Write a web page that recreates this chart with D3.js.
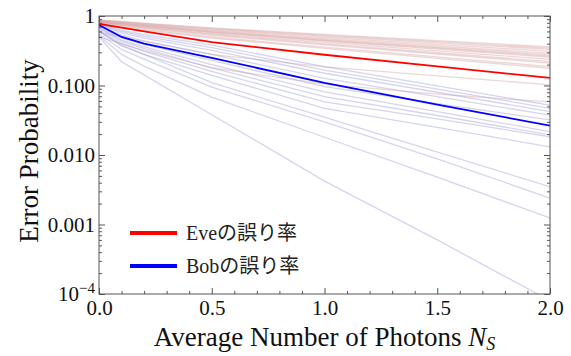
<!DOCTYPE html>
<html>
<head>
<meta charset="utf-8">
<script src="https://cdn.jsdelivr.net/npm/d3@7"></script>
<style>
  body { margin: 0; background: #fff; }
</style>
</head>
<body>
<svg id="chart" width="571" height="356"></svg>
<script>
// sample points along the x axis (average photon number)
const photons = [0, 0.1, 0.2, 0.5, 1.0, 1.5, 2.0];

// bold averages
const eveMean = [0.77, 0.68, 0.60, 0.42, 0.277, 0.188, 0.129];
const bobMean = [0.74, 0.50, 0.40, 0.25, 0.109, 0.053, 0.0265];

// faint individual runs
const eveRuns = [
  [0.88, 0.834, 0.79, 0.673, 0.543, 0.443, 0.36],
  [0.87, 0.823, 0.778, 0.66, 0.528, 0.427, 0.345],
  [0.86, 0.812, 0.766, 0.646, 0.513, 0.411, 0.33],
  [0.85, 0.80, 0.753, 0.628, 0.493, 0.391, 0.31],
  [0.84, 0.788, 0.74, 0.61, 0.473, 0.37, 0.29],
  [0.83, 0.777, 0.727, 0.596, 0.457, 0.354, 0.275],
  [0.825, 0.771, 0.72, 0.587, 0.447, 0.344, 0.265],
  [0.82, 0.765, 0.713, 0.578, 0.437, 0.334, 0.255],
  [0.80, 0.744, 0.692, 0.556, 0.416, 0.315, 0.238],
  [0.80, 0.74, 0.685, 0.543, 0.398, 0.296, 0.22],
  [0.78, 0.721, 0.666, 0.526, 0.384, 0.284, 0.21],
  [0.76, 0.699, 0.642, 0.499, 0.356, 0.258, 0.187],
  [0.74, 0.679, 0.623, 0.482, 0.342, 0.246, 0.177],
  [0.58, 0.50, 0.43, 0.28, 0.185, 0.138, 0.102],
  [0.50, 0.40, 0.32, 0.18, 0.105, 0.075, 0.058]
];
const bobRuns = [
  [0.78, 0.62, 0.54, 0.38, 0.187, 0.099, 0.052],
  [0.76, 0.60, 0.51, 0.35, 0.167, 0.089, 0.047],
  [0.74, 0.57, 0.48, 0.32, 0.15, 0.08, 0.042],
  [0.72, 0.53, 0.44, 0.28, 0.127, 0.069, 0.0375],
  [0.70, 0.48, 0.39, 0.23, 0.096, 0.055, 0.032],
  [0.68, 0.45, 0.36, 0.20, 0.081, 0.042, 0.0217],
  [0.66, 0.43, 0.34, 0.18, 0.069, 0.037, 0.0195],
  [0.62, 0.40, 0.31, 0.16, 0.058, 0.033, 0.0183],
  [0.60, 0.37, 0.28, 0.14, 0.047, 0.025, 0.0131],
  [0.60, 0.38, 0.28, 0.11, 0.035, 0.011, 0.0035],
  [0.55, 0.33, 0.24, 0.095, 0.03, 0.0088, 0.0024],
  [0.52, 0.28, 0.19, 0.068, 0.018, 0.0048, 0.00124],
  [0.50, 0.22, 0.142, 0.038, 0.0042, 0.0006, 0.00008]
];

const xTicks = [0, 0.5, 1.0, 1.5, 2.0];
const yTicks = [1e-4, 1e-3, 1e-2, 1e-1, 1];
const yTickLabels = ["10|−4", "0.001", "0.010", "0.100", "1"];
const legendLabels = ["Eveの誤り率", "Bobの誤り率"];

const width = 571, height = 356;
const margin = {top: 16, right: 21, bottom: 62, left: 99};
const serif = "'Liberation Serif', 'Times New Roman', serif";
const jpFont = "'Liberation Serif', 'Noto Sans CJK JP', serif";
const frameColor = "#555";

const svg = d3.select("#chart");

const x = d3.scaleLinear().domain([0, 2]).range([margin.left, width - margin.right]);
const y = d3.scaleLog().domain([1e-4, 1]).range([height - margin.bottom, margin.top]);

// minor tick positions
const xMinor = d3.range(21).map(i => i / 10).filter(v => !xTicks.some(t => Math.abs(t - v) < 1e-9));
const yMinor = [];
[-4, -3, -2, -1].forEach(e => { for (let k = 2; k <= 9; k++) yMinor.push(k * Math.pow(10, e)); });

svg.append("defs").append("clipPath").attr("id", "plot-clip")
  .append("rect")
  .attr("x", margin.left).attr("y", margin.top)
  .attr("width", width - margin.left - margin.right)
  .attr("height", height - margin.top - margin.bottom);

const line = d3.line()
  .x((d, i) => x(photons[i]))
  .y(d => y(d));

const plot = svg.append("g").attr("clip-path", "url(#plot-clip)").attr("fill", "none");

plot.append("g")
  .attr("stroke", "rgb(215,165,165)")
  .attr("stroke-opacity", 0.45)
  .attr("stroke-width", 1.3)
  .selectAll("path").data(eveRuns).join("path")
  .attr("d", line);

plot.append("g")
  .attr("stroke", "rgb(160,160,220)")
  .attr("stroke-opacity", 0.45)
  .attr("stroke-width", 1.3)
  .selectAll("path").data(bobRuns).join("path")
  .attr("d", line);

plot.append("path").datum(eveMean)
  .attr("stroke", "#ff0000").attr("stroke-width", 1.8).attr("d", line);
plot.append("path").datum(bobMean)
  .attr("stroke", "#0000ff").attr("stroke-width", 1.8).attr("d", line);

// axes: ticks point inward like a Mathematica frame
const styleAxis = g => {
  g.select(".domain").remove();
  g.selectAll(".tick line").attr("stroke", frameColor);
  g.attr("font-family", serif).attr("font-size", 21);
  g.selectAll("text").attr("fill", "#111");
};
const bottomY = y.range()[0], topY = y.range()[1];
const leftX = x.range()[0], rightX = x.range()[1];

svg.append("g").attr("transform", `translate(0,${bottomY})`)
  .call(d3.axisBottom(x).tickValues(xTicks).tickSize(-6).tickPadding(6).tickFormat(d3.format(".1f")))
  .call(styleAxis);
svg.append("g").attr("transform", `translate(0,${bottomY})`)
  .call(d3.axisBottom(x).tickValues(xMinor).tickSize(-3).tickFormat(""))
  .call(styleAxis);
svg.append("g").attr("transform", `translate(0,${topY})`)
  .call(d3.axisTop(x).tickValues(xTicks).tickSize(-6).tickFormat(""))
  .call(styleAxis);
svg.append("g").attr("transform", `translate(0,${topY})`)
  .call(d3.axisTop(x).tickValues(xMinor).tickSize(-3).tickFormat(""))
  .call(styleAxis);

const leftAxis = svg.append("g").attr("transform", `translate(${leftX},0)`)
  .call(d3.axisLeft(y).tickValues(yTicks).tickSize(-6).tickPadding(4)
    .tickFormat((d, i) => yTickLabels[i]))
  .call(styleAxis);
leftAxis.selectAll("text").attr("dy", "0.33em")
  .each(function(d, i) {
    const lab = yTickLabels[i];
    if (lab.includes("|")) {
      const [base, exp] = lab.split("|");
      const t = d3.select(this).text("");
      t.append("tspan").text(base);
      t.append("tspan").attr("dy", -8).attr("font-size", 15).text(exp);
    }
  });
svg.append("g").attr("transform", `translate(${leftX},0)`)
  .call(d3.axisLeft(y).tickValues(yMinor).tickSize(-3).tickFormat(""))
  .call(styleAxis);
svg.append("g").attr("transform", `translate(${rightX},0)`)
  .call(d3.axisRight(y).tickValues(yTicks).tickSize(-6).tickFormat(""))
  .call(styleAxis);
svg.append("g").attr("transform", `translate(${rightX},0)`)
  .call(d3.axisRight(y).tickValues(yMinor).tickSize(-3).tickFormat(""))
  .call(styleAxis);

// frame
svg.append("rect")
  .attr("x", leftX).attr("y", topY)
  .attr("width", rightX - leftX).attr("height", bottomY - topY)
  .attr("fill", "none").attr("stroke", frameColor).attr("stroke-width", 1);

// axis titles
const xTitle = svg.append("text")
  .attr("x", (leftX + rightX) / 2).attr("y", 346)
  .attr("text-anchor", "middle")
  .attr("font-family", serif).attr("font-size", 27).attr("fill", "#111");
xTitle.append("tspan").text("Average Number of Photons ");
xTitle.append("tspan").attr("font-style", "italic").text("N");
xTitle.append("tspan").attr("font-style", "italic").attr("font-size", 18).attr("dy", 4).text("S");

svg.append("text")
  .attr("transform", `translate(38,${(topY + bottomY) / 2 - 4}) rotate(-90)`)
  .attr("text-anchor", "middle")
  .attr("font-family", serif).attr("font-size", 27).attr("fill", "#111")
  .text("Error Probability");

// legend
const legend = svg.append("g");
const legendColors = ["#ff0000", "#0000ff"];
legendLabels.forEach((lab, i) => {
  const ly = 233 + i * 33;
  legend.append("line")
    .attr("x1", 130).attr("x2", 177).attr("y1", ly).attr("y2", ly)
    .attr("stroke", legendColors[i]).attr("stroke-width", 4);
  legend.append("text")
    .attr("x", 186).attr("y", ly + 7)
    .attr("font-family", jpFont).attr("font-size", 20).attr("fill", "#222")
    .text(lab);
});
</script>
</body>
</html>
